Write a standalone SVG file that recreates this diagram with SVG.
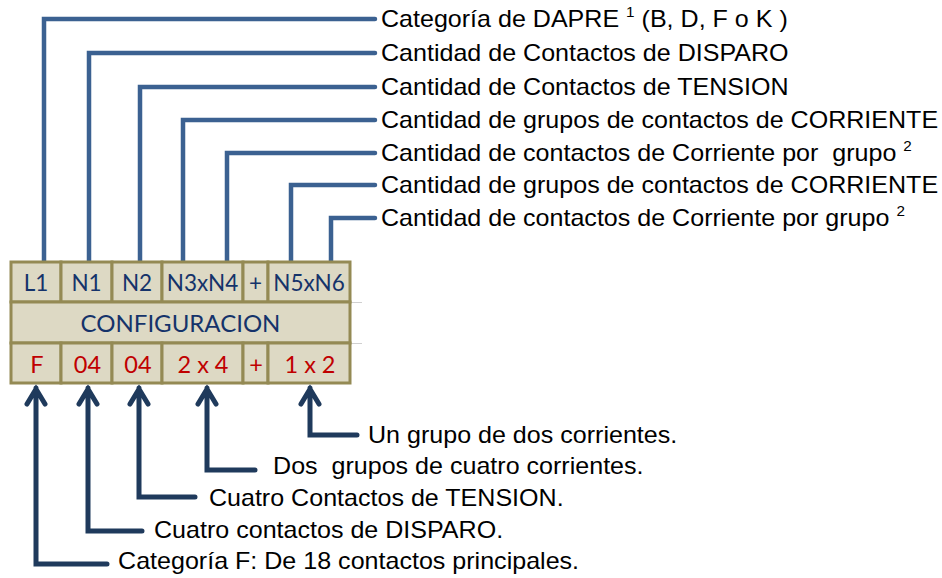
<svg xmlns="http://www.w3.org/2000/svg" width="942" height="578" viewBox="0 0 942 578">
<style>
.lbl{font-family:"Liberation Sans",Arial,sans-serif;font-size:23px;fill:#000;white-space:pre}
.sup{font-size:14px}
.cellf{fill:#DDD9C4;stroke:#948A54;stroke-width:3}
.hd{font-family:Lato,"Open Sans",sans-serif;font-size:22.5px;fill:#15336A;text-anchor:middle}
.val{font-family:Lato,"Open Sans",sans-serif;font-size:23.5px;fill:#C00000;text-anchor:middle}
.top{fill:none;stroke:#3B6191;stroke-width:4.5;stroke-linecap:round;stroke-linejoin:miter}
.bot{fill:none;stroke:#1F3A5C;stroke-width:5;stroke-linecap:round;stroke-linejoin:miter}
</style>
<rect width="942" height="578" fill="#fff"/>
<g id="connectors">
  <path class="top" d="M44,262 V19 H375"/>
  <path class="top" d="M89,262 V53 H375"/>
  <path class="top" d="M140,262 V87 H375"/>
  <path class="top" d="M183,262 V120 H375"/>
  <path class="top" d="M227,262 V153 H375"/>
  <path class="top" d="M291,262 V185 H375"/>
  <path class="top" d="M331,262 V218 H375"/>
  <path class="bot" d="M107,564 H36 V388 M27,404 L36,389 L45,404"/>
  <path class="bot" d="M142,531 H88 V388 M79,404 L88,389 L97,404"/>
  <path class="bot" d="M195,497 H139 V388 M130,404 L139,389 L148,404"/>
  <path class="bot" d="M255,470 H207 V388 M198,404 L207,389 L216,404"/>
  <path class="bot" d="M357,435 H310 V388 M301,404 L310,389 L319,404"/>
</g>
<g id="table">
  <line x1="350" y1="302.5" x2="362" y2="302.5" stroke="#d0d0d0" stroke-width="1"/>
  <line x1="350" y1="343.5" x2="362" y2="343.5" stroke="#d0d0d0" stroke-width="1"/>
  <g id="cell-L1"><rect class="cellf" x="11" y="262" width="50" height="40"/><text class="hd" x="36" y="291">L1</text></g>
  <g id="cell-N1"><rect class="cellf" x="61" y="262" width="51" height="40"/><text class="hd" x="86.5" y="291">N1</text></g>
  <g id="cell-N2"><rect class="cellf" x="112" y="262" width="50" height="40"/><text class="hd" x="137" y="291">N2</text></g>
  <g id="cell-N3xN4"><rect class="cellf" x="162" y="262" width="81" height="40"/><text class="hd" x="202.5" y="291">N3xN4</text></g>
  <g id="cell-plus1"><rect class="cellf" x="243" y="262" width="25" height="40"/><text class="hd" x="255.5" y="291">+</text></g>
  <g id="cell-N5xN6"><rect class="cellf" x="268" y="262" width="82" height="40"/><text class="hd" x="309" y="291">N5xN6</text></g>
  <g id="cell-config"><rect class="cellf" x="11" y="302" width="339" height="41"/><text class="hd" x="180.5" y="332" style="font-size:24px">CONFIGURACION</text></g>
  <g id="cell-F"><rect class="cellf" x="11" y="343" width="50" height="40"/><text class="val" x="37" y="373">F</text></g>
  <g id="cell-04a"><rect class="cellf" x="61" y="343" width="51" height="40"/><text class="val" x="87.5" y="373">04</text></g>
  <g id="cell-04b"><rect class="cellf" x="112" y="343" width="50" height="40"/><text class="val" x="138" y="373">04</text></g>
  <g id="cell-2x4"><rect class="cellf" x="162" y="343" width="81" height="40"/><text class="val" x="203" y="373">2 x 4</text></g>
  <g id="cell-plus2"><rect class="cellf" x="243" y="343" width="25" height="40"/><text class="val" x="256" y="373">+</text></g>
  <g id="cell-1x2"><rect class="cellf" x="268" y="343" width="82" height="40"/><text class="val" x="310" y="373">1 x 2</text></g>
</g>
<g transform="scale(1.09,1)">
  <g id="label-top1"><text class="lbl" x="349.5" y="27.5" xml:space="preserve">Categoría de DAPRE <tspan class="sup" dy="-10">1</tspan><tspan dy="10"> (B, D, F o K )</tspan></text></g>
  <g id="label-top2"><text class="lbl" x="349.5" y="61.5">Cantidad de Contactos de DISPARO</text></g>
  <g id="label-top3"><text class="lbl" x="349.5" y="95.5">Cantidad de Contactos de TENSION</text></g>
  <g id="label-top4"><text class="lbl" x="349.5" y="128.5">Cantidad de grupos de contactos de CORRIENTE</text></g>
  <g id="label-top5"><text class="lbl" x="349.5" y="161.5" xml:space="preserve">Cantidad de contactos de Corriente por  grupo <tspan class="sup" dy="-10">2</tspan></text></g>
  <g id="label-top6"><text class="lbl" x="349.5" y="193.5">Cantidad de grupos de contactos de CORRIENTE</text></g>
  <g id="label-top7"><text class="lbl" x="349.5" y="226.5" xml:space="preserve">Cantidad de contactos de Corriente por grupo <tspan class="sup" dy="-10">2</tspan></text></g>
  <g id="label-b1"><text class="lbl" x="337.6" y="443">Un grupo de dos corrientes.</text></g>
  <g id="label-b2"><text class="lbl" x="250.5" y="474" xml:space="preserve">Dos  grupos de cuatro corrientes.</text></g>
  <g id="label-b3"><text class="lbl" x="191.7" y="506">Cuatro Contactos de TENSION.</text></g>
  <g id="label-b4"><text class="lbl" x="141.3" y="538">Cuatro contactos de DISPARO.</text></g>
  <g id="label-b5"><text class="lbl" x="108.3" y="569">Categoría F: De 18 contactos principales.</text></g>
</g>
</svg>
